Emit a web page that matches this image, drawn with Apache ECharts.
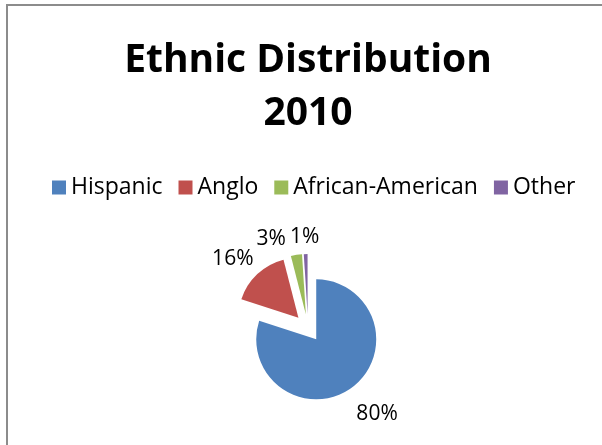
<!DOCTYPE html>
<html><head><meta charset="utf-8">
<script src="https://cdn.jsdelivr.net/npm/echarts@6/dist/echarts.min.js"></script>
<style>
html,body{margin:0;padding:0;background:#fff;overflow:hidden}
#frame{position:absolute;left:6px;top:4px;width:700px;height:600px;border-left:2px solid #8c8c8c;border-top:2px solid #8c8c8c}
#main{position:absolute;left:0;top:0;width:602px;height:445px}
</style></head>
<body>
<div id="frame"></div>
<div id="main"></div>
<script>
const titleText = 'Ethnic Distribution\n2010';
const categories = ['Hispanic', 'Anglo', 'African-American', 'Other'];
const values = [80, 16, 3, 1];
const colors = ['#4F81BD', '#C0504D', '#9BBB59', '#8064A2'];
// label nudges (style only) to mimic the spreadsheet's "outside end" placement
const labelShiftX = [-6, 8, -4, 19];
const labelShiftY = [18, -8, -6, -7];

const chart = echarts.init(document.getElementById('main'));
const font = '"Open Sans", Lato, sans-serif';
chart.setOption({
  animation: false,
  title: {
    text: titleText, left: 308, top: 34, padding: 0, textAlign: 'center',
    textStyle: { fontFamily: font, fontWeight: 'bold', fontSize: 39, lineHeight: 53, color: '#000' }
  },
  legend: {
    data: categories, top: 176, left: 52, padding: 0, icon: 'rect', itemWidth: 14, itemHeight: 14, itemGap: 16,
    textStyle: { fontFamily: font, fontSize: 23, color: '#000' }, selectedMode: false
  },
  color: colors,
  series: [{
    type: 'pie', center: [308, 328], radius: 60, startAngle: 90, clockwise: true,
    selectedMode: 'multiple', selectedOffset: 14, avoidLabelOverlap: false,
    label: { show: true, position: 'outside', formatter: '{d}%', fontFamily: font, fontSize: 21, color: '#000' },
    labelLine: { show: false, length: 10, length2: 0 },
    labelLayout: function (p) {
      return { dx: labelShiftX[p.dataIndex], dy: labelShiftY[p.dataIndex], hideOverlap: false, moveOverlap: null };
    },
    itemStyle: { borderWidth: 0 },
    emphasis: { disabled: true },
    data: categories.map((c, i) => ({ name: c, value: values[i], selected: true }))
  }]
});
</script>
</body></html>
